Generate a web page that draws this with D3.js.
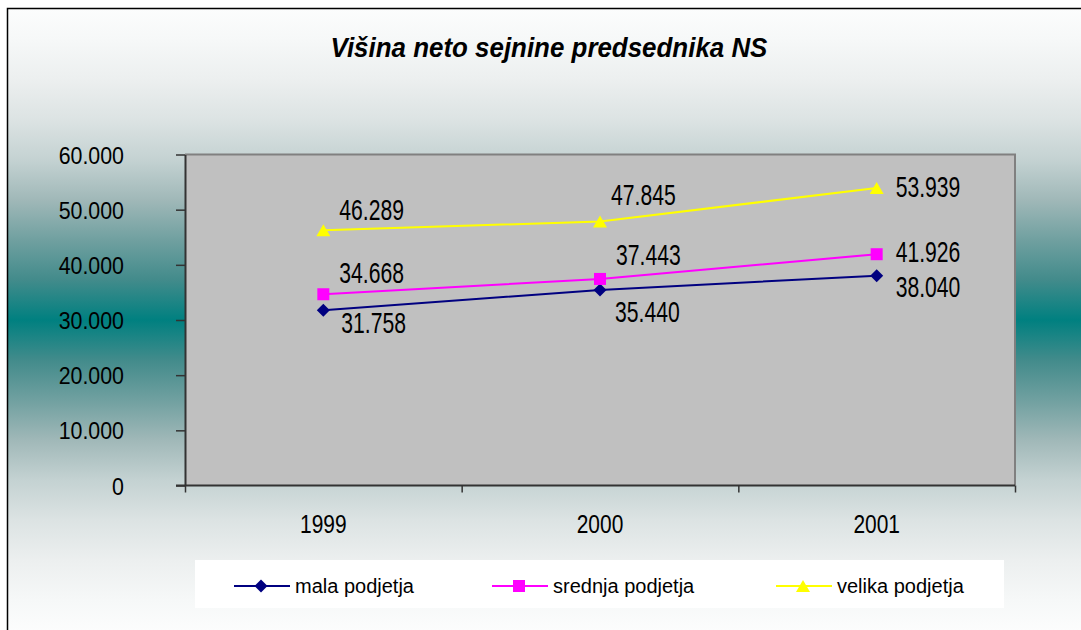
<!DOCTYPE html>
<html>
<head>
<meta charset="utf-8">
<script src="https://cdn.jsdelivr.net/npm/d3@7"></script>
<style>
html,body{margin:0;padding:0;background:#fff;overflow:hidden;}
svg{display:block;font-family:"Liberation Sans",Arial,sans-serif;}
</style>
</head>
<body>
<svg id="chart" width="1081" height="630"></svg>
<script>
// ---- data ----
const title = "Višina neto sejnine predsednika NS";
const categories = ["1999", "2000", "2001"];
const seriesNames = ["mala podjetja", "srednja podjetja", "velika podjetja"];
const malaValues = [31758, 35440, 38040];
const srednjaValues = [34668, 37443, 41926];
const velikaValues = [46289, 47845, 53939];
const yTicks = [0, 10000, 20000, 30000, 40000, 50000, 60000];
const seriesColors = ["#000080", "#FF00FF", "#FFFF00"];
const seriesMarkers = ["diamond", "square", "triangle"];

// label offsets (layout only)
const labelOffsets = [
  [[18, 23], [15, 32], [19, 21]],
  [[16, -11], [16, -14], [19, 7.5]],
  [[16, -10], [11, -16.5], [19, 9]]
];

const series = [malaValues, srednjaValues, velikaValues].map((vals, i) => ({
  name: seriesNames[i], values: vals, color: seriesColors[i], marker: seriesMarkers[i]
}));

const svg = d3.select("#chart");
const W = 1081, H = 630;
const loc = d3.formatLocale({thousands: ".", decimal: ",", grouping: [3], currency: ["", ""]});
const fmt = loc.format(",d");

// background gradient
const defs = svg.append("defs");
const grad = defs.append("linearGradient").attr("id", "bg")
  .attr("gradientUnits", "userSpaceOnUse").attr("x1", 0).attr("x2", 0).attr("y1", 8).attr("y2", 632);
const prof = [[0, "#008080"], [40, "#428b8b"], [80, "#70a0a0"], [120, "#a0b8b8"], [160, "#c4d2d2"],
              [200, "#dce3e3"], [240, "#ecefef"], [280, "#f6f8f8"], [312, "#fcfdfd"]];
const stops = [];
prof.slice().reverse().forEach(p => stops.push([(312 - p[0]) / 624, p[1]]));
prof.slice(1).forEach(p => stops.push([(312 + p[0]) / 624, p[1]]));
grad.selectAll("stop").data(stops).join("stop")
  .attr("offset", d => d[0]).attr("stop-color", d => d[1]);

svg.append("rect").attr("x", 7.5).attr("y", 8.5).attr("width", 1090).attr("height", 640)
  .attr("fill", "url(#bg)").attr("stroke", "#000").attr("stroke-width", 1.5);

// title
svg.append("text").attr("transform", "translate(549,57) scale(0.926,1)")
  .attr("text-anchor", "middle").attr("font-size", 28).attr("font-weight", "bold")
  .attr("font-style", "italic").attr("fill", "#000").text(title);

// plot area
const pl = 185, pr = 1015, pt = 154.5, pb = 485.5;
const y = d3.scaleLinear().domain([0, 60000]).range([pb, pt]);
const xBand = d3.scaleBand().domain(categories).range([pl, pr]);
const xEdge = d3.scaleLinear().domain([0, categories.length]).range([pl, pr]);
const xc = c => xBand(c) + xBand.bandwidth() / 2;

svg.append("rect").attr("x", pl).attr("y", pt).attr("width", pr - pl).attr("height", pb - pt)
  .attr("fill", "#C0C0C0");
svg.append("path").attr("d", `M${pl},${pt}H${pr}V${pb}`).attr("fill", "none")
  .attr("stroke", "#808080").attr("stroke-width", 2);

// y axis
const yAxis = svg.append("g").attr("transform", `translate(${pl},0)`)
  .call(d3.axisLeft(y).tickValues(yTicks).tickSize(9).tickSizeOuter(0).tickFormat(fmt));
yAxis.select(".domain").attr("stroke", "#333").attr("stroke-width", 2);
yAxis.selectAll(".tick line").attr("stroke", "#333").attr("stroke-width", 1.5);
yAxis.selectAll(".tick text").attr("x", 0).attr("dy", "0.36em")
  .attr("transform", "translate(-61,0) scale(0.89,1)")
  .attr("font-size", 24).attr("font-family", "Liberation Sans, Arial, sans-serif").attr("fill", "#000");

// x axis (ticks at category boundaries)
const xAxis = svg.append("g").attr("transform", `translate(0,${pb})`)
  .call(d3.axisBottom(xEdge).tickValues(d3.range(0, categories.length + 1)).tickSize(7).tickSizeOuter(0).tickFormat(""));
xAxis.select(".domain").attr("stroke", "#333").attr("stroke-width", 2).attr("d", `M${pl - 9},0H${pr}`);
xAxis.selectAll(".tick line").attr("stroke", "#333").attr("stroke-width", 1.5);
svg.append("g").selectAll("text").data(categories).join("text")
  .attr("transform", d => `translate(${xc(d)},533) scale(0.79,1)`)
  .attr("text-anchor", "middle").attr("font-size", 26.5).attr("fill", "#000").text(d => d);

// markers
function markerPath(type) {
  if (type === "diamond") return "M0,-6.5L6.5,0L0,6.5L-6.5,0Z";
  if (type === "square") return "M-6,-6H6V6H-6Z";
  return "M0,-6L7,6H-7Z";
}

// lines
const line = d3.line().x((d, i) => xc(categories[i])).y(d => y(d));
series.forEach((s, si) => {
  const g = svg.append("g");
  g.append("path").attr("d", line(s.values)).attr("fill", "none")
    .attr("stroke", s.color).attr("stroke-width", 2);
  g.selectAll("path.m").data(s.values).join("path").attr("class", "m")
    .attr("transform", (d, i) => `translate(${xc(categories[i])},${y(d)})`)
    .attr("d", markerPath(s.marker)).attr("fill", s.color);
  g.selectAll("text").data(s.values).join("text")
    .attr("transform", (d, i) => `translate(${xc(categories[i]) + labelOffsets[si][i][0]},${y(d) + labelOffsets[si][i][1]}) scale(0.73,1)`)
    .attr("font-size", 29).attr("fill", "#000").text(d => fmt(d));
});

// legend
svg.append("rect").attr("x", 195).attr("y", 560).attr("width", 809).attr("height", 48).attr("fill", "#fff");
const legX = [234, 492, 776];
series.forEach((s, i) => {
  const g = svg.append("g").attr("transform", `translate(${legX[i]},586)`);
  g.append("line").attr("x1", 0).attr("x2", 56).attr("stroke", s.color).attr("stroke-width", 2);
  g.append("path").attr("transform", "translate(27,0)").attr("d", markerPath(s.marker)).attr("fill", s.color);
  g.append("text").attr("x", 61).attr("y", 7).attr("font-size", 20).attr("fill", "#000").text(s.name);
});
</script>
</body>
</html>
